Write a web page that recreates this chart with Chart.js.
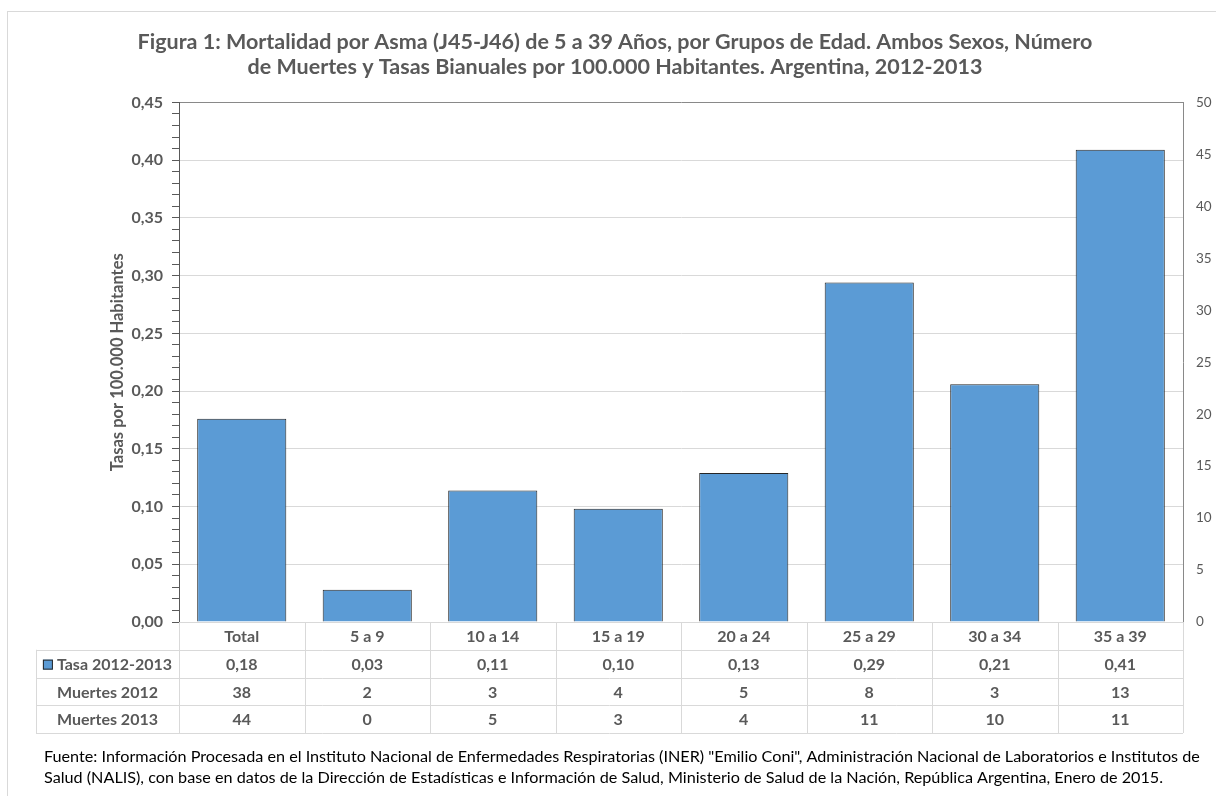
<!DOCTYPE html>
<html lang="es">
<head>
  <meta charset="UTF-8" />
  <title>Mortalidad por Asma | Argentina 2012-2013</title>
  <script src="https://cdn.jsdelivr.net/npm/chart.js"></script>
  <style>
    html, body { margin: 0; padding: 0; background: #fff; }
    #chart-box { position: relative; width: 1216px; height: 796px; }
  </style>
</head>
<body>
  <div id="chart-box">
    <canvas id="canvas-asma"></canvas>
  </div>

  <script>
    // Datos
    const categorias = ['Total', '5 a 9', '10 a 14', '15 a 19', '20 a 24', '25 a 29', '30 a 34', '35 a 39'];
    const tasas = [0.176, 0.028, 0.114, 0.098, 0.129, 0.294, 0.206, 0.409];
    const muertes2012 = [38, 2, 3, 4, 5, 8, 3, 13];
    const muertes2013 = [44, 0, 5, 3, 4, 11, 10, 11];
    const filas = ['Tasa 2012-2013', 'Muertes 2012', 'Muertes 2013'];

    const yMax = 0.45, yPaso = 0.05, yMenor = 0.01;
    const y2Max = 50, y2Paso = 5;

    const titulo = [
      'Figura 1: Mortalidad por Asma (J45-J46) de 5 a 39 Años, por Grupos de Edad. Ambos Sexos, Número',
      'de Muertes y Tasas Bianuales por 100.000 Habitantes. Argentina, 2012-2013'
    ];
    const fuente = [
      'Fuente: Información Procesada en el Instituto Nacional de Enfermedades Respiratorias (INER) "Emilio Coni", Administración Nacional de Laboratorios e Institutos de',
      'Salud (NALIS), con base en datos de la Dirección de Estadísticas e Información de Salud, Ministerio de Salud de la Nación, República Argentina, Enero de 2015.'
    ];

    const GRIS = '#595959';
    const LINEA = '#d9d9d9';
    const AZUL = '#5b9bd5';
    const FUENTE_TXT = 'Lato, "Open Sans", sans-serif';

    const coma = (v, d) => v.toFixed(d).replace('.', ',');
    const esMayor = v => Math.round(v / yMenor) % Math.round(yPaso / yMenor) === 0;

    // tabla de datos + marco + fuente
    const tablaPlugin = {
      id: 'tablaDatos',
      afterDraw(chart) {
        const ctx = chart.ctx;
        const area = chart.chartArea;
        const xs = chart.scales.x;
        const n = categorias.length;
        const rowH = 27.75;
        const top = area.bottom;
        const izq = 36;

        ctx.save();
        // marco del grafico
        ctx.strokeStyle = LINEA;
        ctx.lineWidth = 1;
        ctx.strokeRect(7.5, 11.5, 1400, 900);

        // lineas de la tabla
        const bordes = [area.left];
        for (let i = 0; i < n - 1; i++) {
          bordes.push((xs.getPixelForValue(i) + xs.getPixelForValue(i + 1)) / 2);
        }
        bordes.push(area.right);

        ctx.beginPath();
        for (let r = 1; r <= 4; r++) {
          const y = Math.round(top + r * rowH) + 0.5;
          ctx.moveTo(izq, y);
          ctx.lineTo(area.right, y);
        }
        bordes.forEach(bx => {
          const x = Math.round(bx) + 0.5;
          ctx.moveTo(x, top);
          ctx.lineTo(x, top + 4 * rowH);
        });
        ctx.moveTo(izq + 0.5, top + rowH);
        ctx.lineTo(izq + 0.5, top + 4 * rowH);
        ctx.stroke();

        // textos
        ctx.fillStyle = GRIS;
        ctx.font = 'bold 16px ' + FUENTE_TXT;
        ctx.textAlign = 'center';
        ctx.textBaseline = 'middle';
        const valores = [
          categorias,
          tasas.map(v => coma(v, 2)),
          muertes2012.map(String),
          muertes2013.map(String)
        ];
        valores.forEach((fila, r) => {
          const y = top + r * rowH + rowH / 2 + 1;
          fila.forEach((t, i) => ctx.fillText(t, xs.getPixelForValue(i), y));
        });

        // etiquetas de fila
        const cx = (izq + area.left) / 2;
        filas.forEach((t, k) => {
          const y = top + (k + 1) * rowH + rowH / 2 + 1;
          if (k === 0) {
            const w = ctx.measureText(t).width;
            const x0 = cx - (w + 14) / 2;
            ctx.fillStyle = AZUL;
            ctx.fillRect(x0, y - 5, 10, 10);
            ctx.strokeStyle = '#262626';
            ctx.strokeRect(x0 + 0.5, y - 4.5, 9, 9);
            ctx.fillStyle = GRIS;
            ctx.textAlign = 'left';
            ctx.fillText(t, x0 + 14, y);
            ctx.textAlign = 'center';
          } else {
            ctx.fillText(t, cx, y);
          }
        });

        // fuente
        ctx.fillStyle = '#000';
        ctx.textAlign = 'left';
        ctx.textBaseline = 'alphabetic';
        ctx.font = '16.2px ' + FUENTE_TXT;
        fuente.forEach((t, k) => ctx.fillText(t, 44, 762 + k * 21, 1162));
        ctx.restore();
      }
    };

    const ctxAsma = document.getElementById('canvas-asma').getContext('2d');
    new Chart(ctxAsma, {
      type: 'bar',
      data: {
        labels: categorias,
        datasets: [{
          label: 'Tasa 2012-2013',
          data: tasas,
          backgroundColor: AZUL,
          borderColor: '#262626',
          borderWidth: 1,
          barPercentage: 0.71,
          categoryPercentage: 1,
          yAxisID: 'y'
        }]
      },
      options: {
        responsive: true,
        maintainAspectRatio: false,
        animation: false,
        layout: { padding: { left: 14, right: 0, top: 0, bottom: 174 } },
        plugins: {
          legend: { display: false },
          tooltip: { enabled: false },
          title: {
            display: true,
            text: titulo,
            color: GRIS,
            font: { family: FUENTE_TXT, size: 21.5, weight: 'bold', lineHeight: 1.15 },
            padding: { top: 30, bottom: 23 }
          }
        },
        scales: {
          x: { display: false },
          y: {
            position: 'left',
            min: 0,
            max: yMax,
            afterFit: s => { s.width = 179 - 14; },
            ticks: {
              stepSize: yMenor,
              autoSkip: false,
              padding: 9,
              color: GRIS,
              font: { family: FUENTE_TXT, size: 16, weight: 'bold' },
              callback: v => esMayor(v) ? coma(v, 2) : ''
            },
            grid: {
              color: c => {
                if (!c.tick) return 'rgba(0,0,0,0)';
                if (Math.abs(c.tick.value - yMax) < 1e-9) return '#898989';
                return esMayor(c.tick.value) ? LINEA : 'rgba(0,0,0,0)';
              },
              tickColor: GRIS,
              tickLength: 7
            },
            border: { color: GRIS },
            title: {
              display: true,
              text: 'Tasas por 100.000 Habitantes',
              color: GRIS,
              font: { family: FUENTE_TXT, size: 16.5, weight: 'bold' },
              padding: { top: 94, bottom: 0 }
            }
          },
          y1: {
            position: 'right',
            min: 0,
            max: y2Max,
            afterFit: s => { s.width = 1216 - 1183; },
            ticks: {
              stepSize: y2Paso,
              padding: 13,
              color: GRIS,
              font: { family: FUENTE_TXT, size: 13.5 }
            },
            grid: { display: false, drawTicks: false },
            border: { color: '#898989' }
          }
        }
      },
      plugins: [tablaPlugin]
    });
  </script>
</body>
</html>
